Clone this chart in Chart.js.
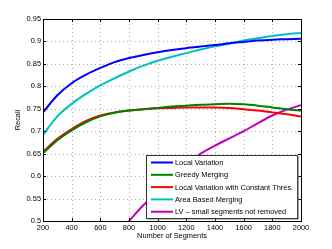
<!DOCTYPE html>
<html lang="en">
  <head>
    <meta charset="UTF-8" />
    <title>Recall vs segments</title>
    <script src="https://cdn.jsdelivr.net/npm/chart.js"></script>
    <style>
      html, body { margin: 0; padding: 0; background: #fff; }
      #wrap { width: 332px; height: 249px; }
    </style>
  </head>
  <body>
    <div id="wrap"><canvas id="myChart" width="332" height="249"></canvas></div>

    <script>
      // number of segments (x values)
      const segments = [200, 300, 400, 500, 600, 700, 800, 900, 1000, 1100, 1200, 1300, 1400, 1500, 1600, 1700, 1800, 1900, 2000];

      // recall per method
      const localVariation = [0.742, 0.780, 0.807, 0.826, 0.841, 0.854, 0.863, 0.870, 0.876, 0.881, 0.885, 0.889, 0.892, 0.896, 0.899, 0.902, 0.904, 0.905, 0.906];
      const greedyMerging = [0.651, 0.680, 0.702, 0.720, 0.733, 0.741, 0.746, 0.749, 0.752, 0.755, 0.757, 0.759, 0.760, 0.761, 0.760, 0.757, 0.753, 0.749, 0.746];
      const lvConstant = [0.654, 0.683, 0.705, 0.723, 0.735, 0.742, 0.746, 0.749, 0.751, 0.752, 0.753, 0.753, 0.753, 0.752, 0.749, 0.746, 0.742, 0.738, 0.733];
      const areaBased = [0.692, 0.733, 0.761, 0.783, 0.802, 0.818, 0.833, 0.846, 0.857, 0.866, 0.874, 0.882, 0.889, 0.895, 0.902, 0.907, 0.912, 0.916, 0.919];
      const lvNotRemoved = [null, null, null, null, null, null, 0.500, 0.535, 0.565, 0.595, 0.625, 0.650, 0.668, 0.684, 0.700, 0.718, 0.735, 0.748, 0.758];

      const yTicks = [0.5, 0.55, 0.6, 0.65, 0.7, 0.75, 0.8, 0.85, 0.9, 0.95];
      const xTicks = [200, 400, 600, 800, 1000, 1200, 1400, 1600, 1800, 2000];

      const FONT = "'Liberation Sans', Arial, sans-serif";

      function series(label, values, color) {
        return {
          label: label,
          data: segments.map((x, i) => ({ x: x, y: values[i] })),
          borderColor: color,
          backgroundColor: color,
          borderWidth: 2,
          pointRadius: 0,
          cubicInterpolationMode: "monotone",
          fill: false,
        };
      }

      // dotted matlab grid (canvas dash), drawn under the lines
      const dottedGrid = {
        id: "dottedGrid",
        beforeDatasetsDraw(chart) {
          const ctx = chart.ctx;
          const a = chart.chartArea;
          const xs = chart.scales.x, ys = chart.scales.y;
          ctx.save();
          ctx.strokeStyle = "#b0b0b0";
          ctx.lineWidth = 1;
          ctx.setLineDash([1, 3]);
          ctx.beginPath();
          yTicks.forEach((v) => {
            const p = Math.round(ys.getPixelForValue(v)) + 0.5;
            ctx.moveTo(a.left, p); ctx.lineTo(a.right, p);
          });
          xTicks.forEach((v) => {
            const p = Math.round(xs.getPixelForValue(v)) + 0.5;
            ctx.moveTo(p, a.bottom); ctx.lineTo(p, a.top);
          });
          ctx.stroke();
          ctx.restore();
        },
      };

      // box around the axes, inward ticks, and a matlab style legend inside the plot
      const matlabBits = {
        id: "matlabBits",
        afterDatasetsDraw(chart) {
          const ctx = chart.ctx;
          const a = chart.chartArea;
          const xs = chart.scales.x, ys = chart.scales.y;
          ctx.save();
          ctx.strokeStyle = "#000";
          ctx.lineWidth = 1;
          ctx.strokeRect(Math.round(a.left) + 0.5, Math.round(a.top) + 0.5,
            Math.round(a.right - a.left), Math.round(a.bottom - a.top));

          // little inward ticks
          ctx.beginPath();
          yTicks.forEach((v) => {
            const p = Math.round(ys.getPixelForValue(v)) + 0.5;
            ctx.moveTo(a.left, p); ctx.lineTo(a.left + 3, p);
            ctx.moveTo(a.right, p); ctx.lineTo(a.right - 3, p);
          });
          xTicks.forEach((v) => {
            const p = Math.round(xs.getPixelForValue(v)) + 0.5;
            ctx.moveTo(p, a.bottom); ctx.lineTo(p, a.bottom - 3);
            ctx.moveTo(p, a.top); ctx.lineTo(p, a.top + 3);
          });
          ctx.stroke();

          // legend
          ctx.font = "7.4px " + FONT;
          const items = chart.data.datasets;
          let tw = 0;
          items.forEach((d) => { tw = Math.max(tw, ctx.measureText(d.label).width); });
          const w = tw + 33, h = 63;
          const x0 = Math.round(a.right - 3.5 - w), y0 = Math.round(a.bottom - 3.5 - h);
          ctx.fillStyle = "#888";
          ctx.fillRect(x0 + 1.5, y0 + 1.5, w, h);
          ctx.fillStyle = "#fff";
          ctx.fillRect(x0, y0, w, h);
          ctx.strokeStyle = "#333";
          ctx.strokeRect(x0 + 0.5, y0 + 0.5, w, h);
          ctx.textBaseline = "middle";
          items.forEach((d, i) => {
            const yy = y0 + 7.5 + i * 12.3;
            ctx.strokeStyle = d.borderColor;
            ctx.lineWidth = 2;
            ctx.beginPath();
            ctx.moveTo(x0 + 5, yy);
            ctx.lineTo(x0 + 27, yy);
            ctx.stroke();
            ctx.fillStyle = "#000";
            ctx.fillText(d.label, x0 + 29, yy + 0.5);
          });
          ctx.restore();
        },
      };

      new Chart(document.getElementById("myChart").getContext("2d"), {
        type: "line",
        data: {
          datasets: [
            series("Local Variation", localVariation, "#0000ff"),
            series("Greedy Merging", greedyMerging, "#008000"),
            series("Local Variation with Constant Thres.", lvConstant, "#ff0000"),
            series("Area Based Merging", areaBased, "#00bfbf"),
            series("LV \u2013 small segments not removed", lvNotRemoved, "#bf00bf"),
          ],
        },
        options: {
          responsive: false,
          animation: false,
          layout: { padding: { top: 19, right: 31, left: 0, bottom: 0 } },
          plugins: { legend: { display: false }, tooltip: { enabled: false } },
          scales: {
            x: {
              type: "linear",
              min: 200,
              max: 2000,
              afterFit: (s) => { s.height = 28; },
              afterBuildTicks: (s) => { s.ticks = xTicks.map((v) => ({ value: v })); },
              grid: { display: false, drawTicks: false },
              border: { color: "#000" },
              ticks: { color: "#000", padding: 3, maxRotation: 0, font: { family: FONT, size: 7.4 }, callback: (v) => String(v) },
              title: { display: true, text: "Number of Segments", color: "#000", font: { family: FONT, size: 7.4 }, padding: { top: 0, bottom: 8.5 } },
            },
            y: {
              min: 0.5,
              max: 0.95,
              afterFit: (s) => { s.width = 43; },
              afterBuildTicks: (s) => { s.ticks = yTicks.map((v) => ({ value: v })); },
              grid: { display: false, drawTicks: false },
              border: { color: "#000" },
              ticks: { color: "#000", padding: 2, font: { family: FONT, size: 7.4 }, callback: (v) => String(Math.round(v * 100) / 100) },
              title: { display: true, text: "Recall", color: "#000", font: { family: FONT, size: 7.4 }, padding: { top: 13.5, bottom: 0 } },
            },
          },
        },
        plugins: [dottedGrid, matlabBits],
      });
    </script>
  </body>
</html>
